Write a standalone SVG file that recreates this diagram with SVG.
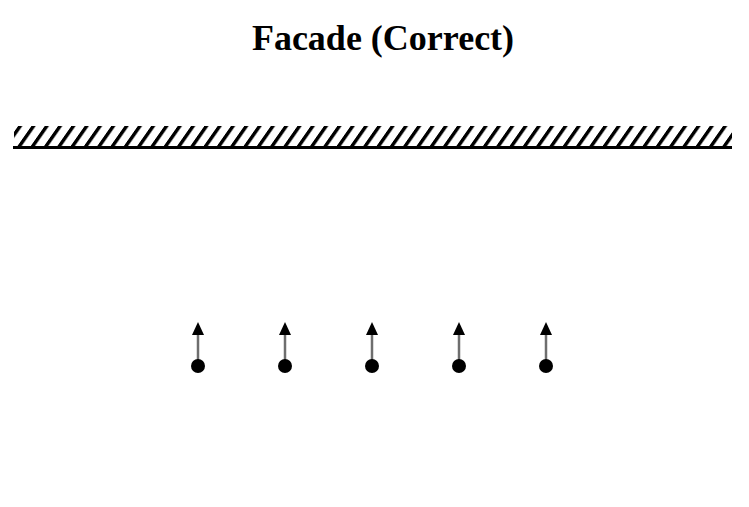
<svg xmlns="http://www.w3.org/2000/svg" width="749" height="507" viewBox="0 0 749 507">
  <style>
    .title { font-family: "Liberation Serif", "Times New Roman", serif; font-weight: bold; font-size: 36px; fill: #000; }
    .stem { stroke: #6e6e6e; stroke-width: 2.5; }
    .dot { fill: #000; }
    .head { fill: #000; }
  </style>
  <defs>
    <pattern id="hatch" patternUnits="userSpaceOnUse" width="13.3" height="20" patternTransform="skewX(-35)">
      <rect x="0" y="0" width="4.2" height="20" fill="#000"/>
    </pattern>
    <g id="arrowUp">
      <line class="stem" x1="0" y1="334" x2="0" y2="360"/>
      <polygon class="head" points="0,322 -6,335 6,335"/>
      <circle class="dot" cx="0" cy="366" r="7"/>
    </g>
  </defs>
  <rect width="749" height="507" fill="#fff"/>
  <text class="title" x="383" y="50" text-anchor="middle">Facade (Correct)</text>
  <g id="ground">
    <rect x="14" y="126" width="718" height="20" fill="url(#hatch)"/>
    <rect x="13" y="146" width="719" height="3" fill="#000"/>
  </g>
  <g id="arrows">
    <g id="a1"><use href="#arrowUp" x="198"/></g>
    <g id="a2"><use href="#arrowUp" x="285"/></g>
    <g id="a3"><use href="#arrowUp" x="372"/></g>
    <g id="a4"><use href="#arrowUp" x="459"/></g>
    <g id="a5"><use href="#arrowUp" x="546"/></g>
  </g>
</svg>
